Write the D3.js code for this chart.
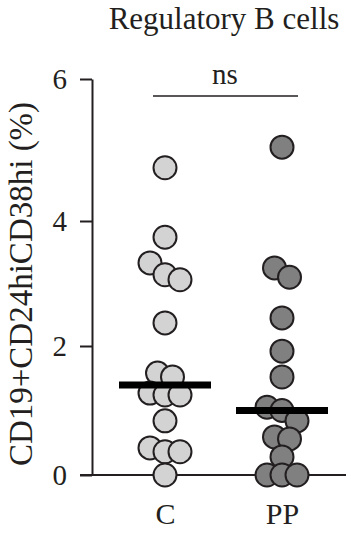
<!DOCTYPE html>
<html>
<head>
<meta charset="utf-8">
<script src="https://cdn.jsdelivr.net/npm/d3@7/dist/d3.min.js"></script>
<style>
  html, body { margin: 0; padding: 0; background: #fff; }
  svg { display: block; }
  svg text { font-family: "Liberation Serif", "Times New Roman", Tinos, "DejaVu Serif", serif !important; fill: #231f20; }
</style>
</head>
<body>
<svg id="chart" width="351" height="536"></svg>
<script>
// ---- data ----
const categories = ["C", "PP"];
const valuesC  = [4.75, 3.74, 3.33, 3.14, 3.06, 2.37, 1.58, 1.52, 1.27, 1.24, 1.24, 0.84, 0.42, 0.36, 0.36, 0.0];
const valuesPP = [5.04, 3.25, 3.10, 2.45, 1.92, 1.52, 1.05, 1.00, 0.84, 0.59, 0.56, 0.28, 0.0, 0.0, 0.0];
const yTicks = [0, 2, 4, 6];
const title = "Regulatory B cells";
const yLabel = "CD19+CD24hiCD38hi (%)";
const sigLabel = "ns";

const series = [
  { cat: "C",  values: valuesC,  fill: "#d3d3d3" },
  { cat: "PP", values: valuesPP, fill: "#808080" }
];

const ink = "#231f20";
const svg = d3.select("#chart");

// scales (the reference's axis spacing is slightly uneven, follow its ticks)
const y = d3.scaleLinear().domain([0, 2, 4, 6]).range([475, 346, 221, 79]);
const x = d3.scalePoint().domain(categories).range([165, 282]);
const axisX = 92;

// title
svg.append("text")
  .attr("x", 224).attr("y", 29)
  .attr("text-anchor", "middle")
  .style("font-size", "31px")
  .text(title);

// y axis
const gy = svg.append("g").attr("transform", `translate(${axisX},0)`)
  .call(d3.axisLeft(y).tickValues(yTicks).tickFormat(d3.format("d"))
    .tickSize(12).tickSizeOuter(0).tickPadding(13));
gy.attr("font-family", null).attr("font-size", null);
gy.select(".domain").attr("stroke", ink).attr("stroke-width", 2);
gy.selectAll(".tick line").attr("stroke", ink).attr("stroke-width", 2);
gy.selectAll(".tick text").style("font-size", "29px").attr("fill", ink);

// x axis
const gx = svg.append("g").attr("transform", `translate(0,${y(0)})`)
  .call(d3.axisBottom(x).tickSize(10).tickSizeOuter(0).tickPadding(18));
gx.attr("font-family", null).attr("font-size", null);
gx.select(".domain").attr("d", `M${axisX - 12},0H346`).attr("stroke", ink).attr("stroke-width", 2);
gx.selectAll(".tick line").attr("stroke", ink).attr("stroke-width", 2);
gx.selectAll(".tick text").style("font-size", "30px").attr("fill", ink);

// y label
svg.append("text")
  .attr("transform", "rotate(-90)")
  .attr("x", -284).attr("y", 32)
  .attr("text-anchor", "middle")
  .style("font-size", "33px")
  .text(yLabel);

// significance bracket
svg.append("line")
  .attr("x1", 153).attr("x2", 298).attr("y1", 96).attr("y2", 96)
  .attr("stroke", ink).attr("stroke-width", 1.6);
svg.append("text")
  .attr("x", 225).attr("y", 84)
  .attr("text-anchor", "middle")
  .style("font-size", "29px")
  .text(sigLabel);

// beeswarm layout: group points that are close vertically into rows, centre each row
const r = 11.5, step = 15, rowGap = 15;
function swarm(values) {
  const pts = values.map(v => ({ v, py: y(v) })).sort((a, b) => a.py - b.py);
  const rows = [];
  pts.forEach(p => {
    const last = rows[rows.length - 1];
    if (last && p.py - last[last.length - 1].py < rowGap) last.push(p);
    else rows.push([p]);
  });
  rows.forEach(row => row.forEach((p, i) => { p.dx = (i - (row.length - 1) / 2) * step; }));
  return pts;
}

series.forEach(s => {
  const pts = swarm(s.values);
  svg.append("g").selectAll("circle").data(pts).join("circle")
    .attr("cx", d => x(s.cat) + d.dx)
    .attr("cy", d => d.py)
    .attr("r", r)
    .attr("fill", s.fill)
    .attr("stroke", ink)
    .attr("stroke-width", 2);
  const med = d3.median(s.values);
  svg.append("line")
    .attr("x1", x(s.cat) - 46).attr("x2", x(s.cat) + 46)
    .attr("y1", y(med)).attr("y2", y(med))
    .attr("stroke", "#000").attr("stroke-width", 7);
});
</script>
</body>
</html>
